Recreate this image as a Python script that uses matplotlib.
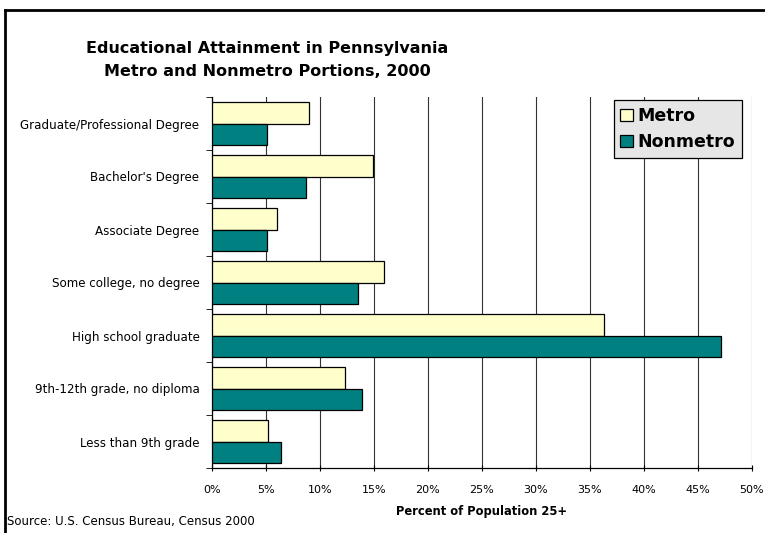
import matplotlib
matplotlib.use("Agg")
import matplotlib.pyplot as plt
import numpy as np
from matplotlib.lines import Line2D
from matplotlib.ticker import FuncFormatter, MultipleLocator

# data (percent of population 25+)
categories = [
    "Graduate/Professional Degree",
    "Bachelor's Degree",
    "Associate Degree",
    "Some college, no degree",
    "High school graduate",
    "9th-12th grade, no diploma",
    "Less than 9th grade",
]
metro = [9.0, 14.9, 6.0, 15.9, 36.3, 12.3, 5.2]
nonmetro = [5.1, 8.7, 5.1, 13.5, 47.1, 13.9, 6.4]

metro_color = "#FFFFCC"
nonmetro_color = "#008080"

plt.rcParams["font.family"] = ["DejaVu Sans"]

fig = plt.figure(figsize=(7.65, 5.33), dpi=100)
W, H = 765, 533
ax = fig.add_axes([212 / W, 1 - 468 / H, (752 - 212) / W, (468 - 97) / H])

n = len(categories)
y = np.arange(n)[::-1]
h = 0.4
ax.barh(y + h / 2, metro, height=h, color=metro_color, edgecolor="black",
        linewidth=0.9, label="Metro", zorder=3)
ax.barh(y - h / 2, nonmetro, height=h, color=nonmetro_color, edgecolor="black",
        linewidth=0.9, label="Nonmetro", zorder=3)

ax.set_xlim(0, 50)
ax.set_ylim(-0.5, n - 0.5)
ax.xaxis.set_major_locator(MultipleLocator(5))
ax.xaxis.set_major_formatter(FuncFormatter(lambda v, p: f"{v:.0f}%"))
ax.grid(axis="x", color="#333333", linewidth=0.8, zorder=0)

ax.set_yticks(y)
ax.set_yticklabels(categories, fontsize=8.6)
ax.set_yticks(np.arange(n + 1) - 0.5, minor=True)
ax.tick_params(axis="y", which="major", length=0, pad=9)
ax.tick_params(axis="y", which="minor", length=4, direction="out")
ax.tick_params(axis="x", length=5, direction="inout", labelsize=8, pad=10)

for side in ["top", "right"]:
    ax.spines[side].set_visible(False)
ax.spines["left"].set_linewidth(0.9)
ax.spines["bottom"].set_linewidth(0.9)

ax.set_xlabel("Percent of Population 25+", fontsize=8.3, fontweight="bold", labelpad=7)

leg = ax.legend(loc="upper right", bbox_to_anchor=(0.987, 1.0),
                prop={"weight": "bold", "size": 12.5}, frameon=True, fancybox=False,
                handlelength=0.7, handleheight=0.7, handletextpad=0.25,
                borderpad=0.4, labelspacing=0.45, borderaxespad=0.2)
leg.get_frame().set_facecolor("#E6E6E6")
leg.get_frame().set_edgecolor("black")
leg.get_frame().set_linewidth(0.9)
leg.get_frame().set_alpha(1)

fig.text(267 / W, 1 - 60 / H, "Educational Attainment in Pennsylvania\nMetro and Nonmetro Portions, 2000",
         ha="center", va="center", fontsize=11.5, fontweight="bold", linespacing=1.6)
fig.text(7 / W, 1 - 521 / H, "Source: U.S. Census Bureau, Census 2000", fontsize=8.5,
         ha="left", va="center")

# outer chart frame (top and left edges visible in the reference)
fig.add_artist(Line2D([5 / W, 1], [1 - 10 / H, 1 - 10 / H], color="black", linewidth=2,
                      transform=fig.transFigure))
fig.add_artist(Line2D([5 / W, 5 / W], [1 - 10 / H, 0], color="black", linewidth=2,
                      transform=fig.transFigure))

fig.savefig("out.png", dpi=100)
